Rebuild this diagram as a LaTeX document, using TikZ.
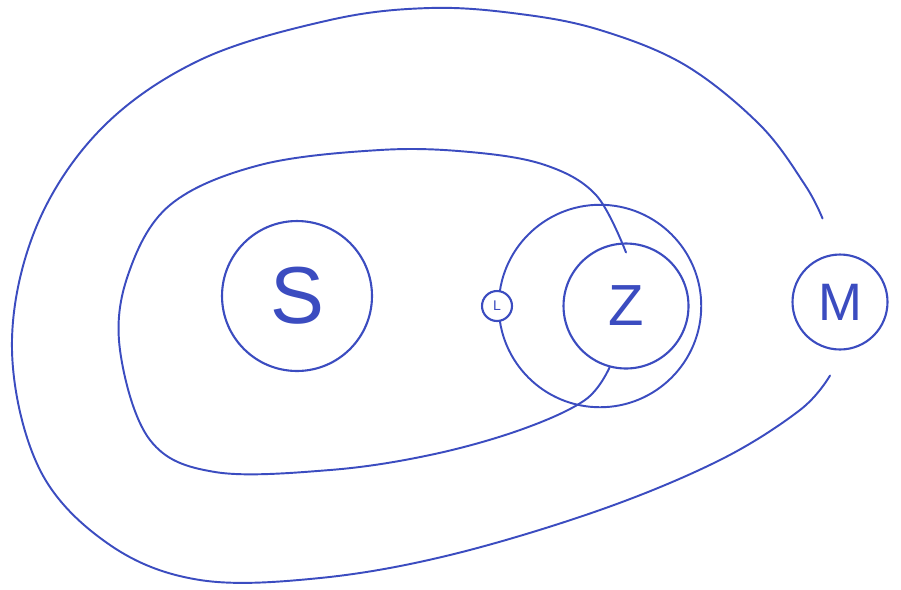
\documentclass[tikz,border=0pt]{standalone}
\usepackage{fontspec}
\setmainfont{Liberation Sans}
\usepackage{tikz}
\usetikzlibrary{positioning,calc}
\definecolor{Ink}{HTML}{3B4CC0}
\definecolor{Paper}{HTML}{FFFFFF}
\tikzset{
  body/.style={draw=Ink,line width=1.2pt,circle,fill=Paper,inner sep=0pt,text=Ink},
  orbit/.style={draw=Ink,line width=1.1pt,line cap=round},
  letter/.style={font=\fontsize{#1}{#1}\selectfont}
}
\begin{document}
\begin{tikzpicture}[x=0.02cm,y=-0.02cm]
  \useasboundingbox[fill=Paper] (0,0) rectangle (901,589);
  % bodies
  \node[body,minimum size=3cm,letter=46] (sun) at (297,296) {S};
  \node[body,minimum size=2.5cm,letter=33] (earth) at (626,306) {Z};
  \node[body,minimum size=1.9cm,letter=30] (mars) at (840,302) {M};
  % moon orbit, moon on top of it
  \node[draw=Ink,line width=1.1pt,circle,minimum size=4.05cm] (moonorbit) at (600,306) {};
  \node[body,minimum size=0.6cm,letter=8] (moon) at (497,306) {L};
  % earth orbit
  \draw[orbit] plot[smooth,tension=0.6] coordinates {([yshift=-0.2cm]earth.north) (596,195) (545,165)
    (470,152) (380,150) (260,165) (170,205) (128,275) (120,350) (150,440) (215,472)
    (330,470) (430,455) (520,430) (585,400) (earth.255)};
  % mars orbit
  \draw[orbit] plot[smooth,tension=0.6] coordinates {([xshift=-0.35cm,yshift=0.7cm]mars.north)
    (805,185) (760,125) (685,65) (600,30) (520,14) (430,8) (330,20) (200,60) (100,130)
    (35,230) (12,350) (40,470) (110,545) (200,580) (320,578) (450,555) (600,510)
    (720,460) (800,410) ([xshift=-0.2cm,yshift=-0.5cm]mars.south)};
\end{tikzpicture}
\end{document}
